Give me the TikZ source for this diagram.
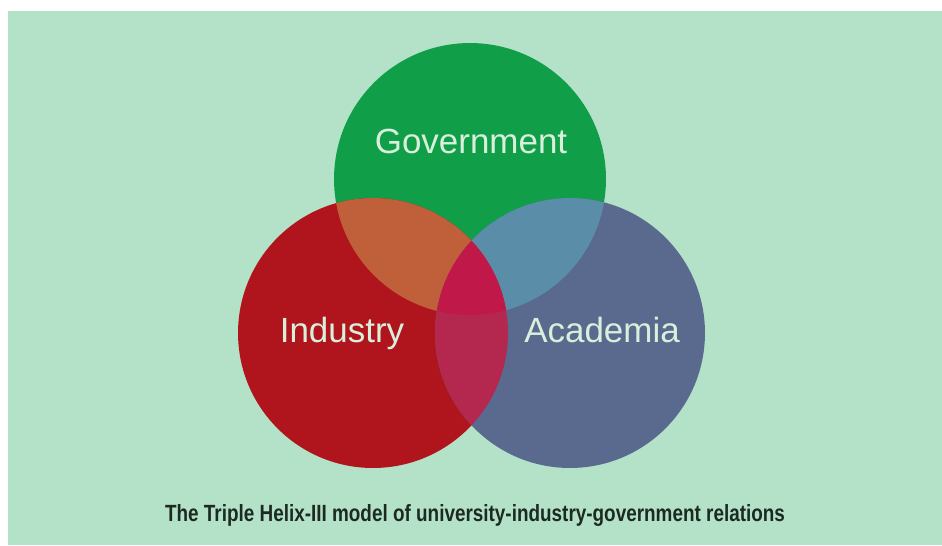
\documentclass[tikz,border=0pt]{standalone}
\usepackage{fontspec}
\setmainfont{Liberation Sans}
\usepackage{graphicx}
\usetikzlibrary{positioning}

\definecolor{bgmint}{HTML}{B4E2C8}
\definecolor{labelmint}{HTML}{D8EFDC}
\definecolor{captionink}{HTML}{1C2A22}
\definecolor{govgreen}{HTML}{109E48}
\definecolor{indred}{HTML}{B0141C}
\definecolor{acablue}{HTML}{5A6A8E}
\definecolor{govind}{HTML}{C0603A}
\definecolor{govaca}{HTML}{5A8EA8}
\definecolor{indaca}{HTML}{B42850}
\definecolor{triple}{HTML}{C01848}

\begin{document}
\begin{tikzpicture}[
    x=0.02cm, y=-0.02cm,
    helix/.style={circle, inner sep=0pt, minimum size=5.4cm},
    sector/.style={font=\fontsize{19.9}{24}\selectfont, text=labelmint,
                   anchor=base}
  ]
  % Frame
  \useasboundingbox (0,0) rectangle (942,545);
  \fill[white] (0,0) rectangle (942,545);
  \fill[bgmint] (8,11) rectangle (942,545);

  % Helices
  \node[helix, fill=govgreen, minimum size=5.44cm] (gov) at (470,179) {};
  \node[helix, fill=indred] (ind) at (373,333) {};
  \node[helix, fill=acablue] (aca) at (570,333) {};

  % Overlaps
  \begin{scope}
    \clip (gov.center) circle[radius=2.72cm];
    \fill[govind] (ind.center) circle[radius=2.7cm];
    \fill[govaca] (aca.center) circle[radius=2.7cm];
  \end{scope}
  \begin{scope}
    \clip (ind.center) circle[radius=2.7cm];
    \fill[indaca] (aca.center) circle[radius=2.7cm];
    \clip (gov.center) circle[radius=2.72cm];
    \fill[triple] (aca.center) circle[radius=2.7cm];
  \end{scope}

  % Labels
  \node[sector] (govlbl) at (471,153) {Government};
  \node[sector] (indlbl) at (342,342) {Industry};
  \node[sector] (acalbl) at (602,342) {Academia};

  % Caption
  \node[anchor=base, text=captionink] (caption) at (475,521)
    {\resizebox{12.4cm}{0.34cm}{\bfseries The Triple Helix-III model of
     university-industry-government relations}};
\end{tikzpicture}
\end{document}
